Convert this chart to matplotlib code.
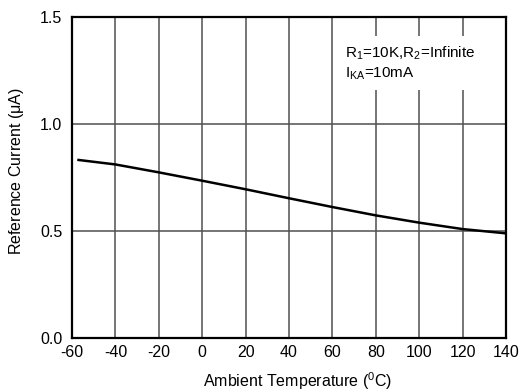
import matplotlib
matplotlib.use("Agg")
import matplotlib.pyplot as plt

# curva
temperatura = [-57, -40, -20, 0, 20, 40, 60, 80, 100, 120, 140]
corrente = [0.832, 0.811, 0.774, 0.735, 0.695, 0.653, 0.612, 0.573, 0.539, 0.509, 0.489]

xticks = [-60, -40, -20, 0, 20, 40, 60, 80, 100, 120, 140]
yticks = [0.0, 0.5, 1.0, 1.5]

plt.rcParams["font.family"] = ["Liberation Sans", "DejaVu Sans"]
plt.rcParams["mathtext.default"] = "regular"
plt.rcParams["axes.unicode_minus"] = False

fig = plt.figure(figsize=(5.22, 3.92), dpi=100)
ax = fig.add_axes([72 / 522, 1 - 338 / 392, 434 / 522, 321 / 392])

for x in xticks[1:-1]:
    ax.axvline(x, color="#505050", lw=1.1, zorder=1)
for y in yticks[1:-1]:
    ax.axhline(y, color="#505050", lw=1.1, zorder=1)

ax.plot(temperatura, corrente, color="black", lw=1.8, zorder=3)

ax.set_xlim(-60, 140)
ax.set_ylim(0, 1.5)
ax.set_xticks(xticks)
ax.set_yticks(yticks)
ax.set_yticklabels([f"{v:.1f}" for v in yticks])
ax.tick_params(length=0, labelsize=11.5)
ax.tick_params(axis="x", pad=5)
ax.tick_params(axis="y", pad=7)
for s in ax.spines.values():
    s.set_linewidth(1.6)

ax.text(0.629, 0.915, "R$_1$=10K,R$_2$=Infinite\nI$_{KA}$=10mA",
        transform=ax.transAxes, fontsize=11, va="top", ha="left",
        linespacing=1.3, zorder=4,
        bbox=dict(facecolor="white", edgecolor="none", pad=6))

fig.text(298 / 522, 1 - 381 / 392, "Ambient Temperature ($^0$C)",
         fontsize=11.5, ha="center", va="center")
fig.text(17 / 522, 1 - 171 / 392, "Reference Current ($\\mu$A)",
         fontsize=11.5, ha="center", va="center", rotation=90)

fig.savefig("out.png", dpi=100)
